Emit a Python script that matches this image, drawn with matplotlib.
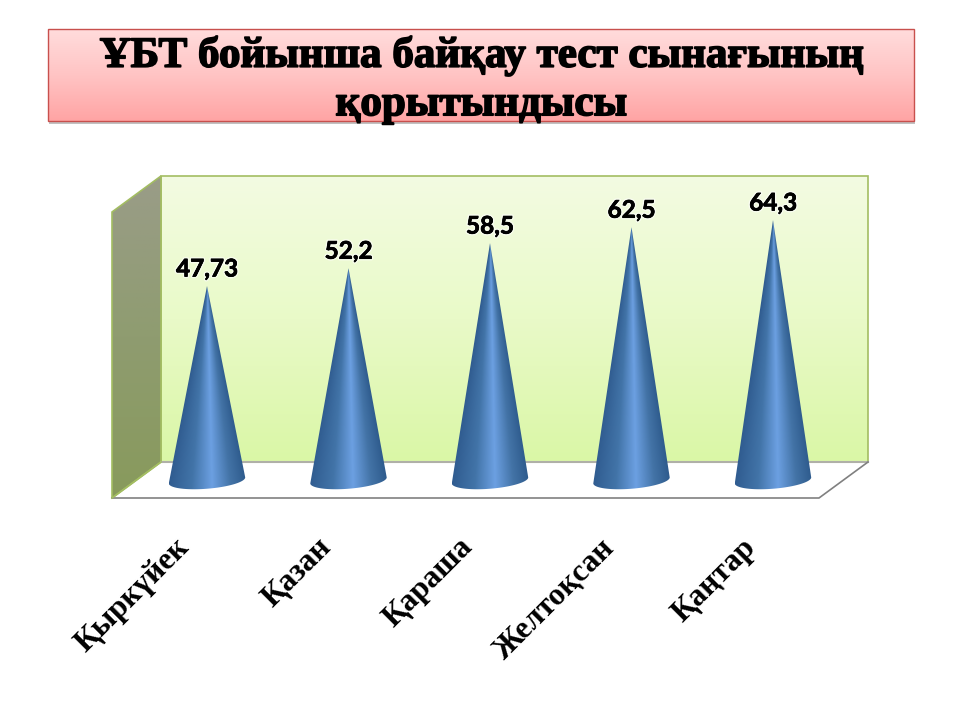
"""Cone chart of test results, with a title banner and a fake 3D chart box"""

import matplotlib

matplotlib.use("Agg")
import matplotlib.pyplot as plt
import matplotlib.patheffects as pe
import numpy as np
from matplotlib.colors import LinearSegmentedColormap
from matplotlib.patches import Polygon, Rectangle
from matplotlib.transforms import ScaledTranslation

title_text = "ҰБТ бойынша байқау тест сынағының\nқорытындысы"
months = ["Қыркүйек", "Қазан", "Қараша", "Желтоқсан", "Қаңтар"]
scores = [47.73, 52.2, 58.5, 62.5, 64.3]
score_labels = ["47,73", "52,2", "58,5", "62,5", "64,3"]

SERIF = ["Liberation Serif", "DejaVu Serif"]

cone_cmap = LinearSegmentedColormap.from_list(
    "cone", [(0, "#305c90"), (0.3, "#4274a8"), (0.56, "#6ca0e2"), (0.8, "#4373a6"), (1, "#2f5c8e")]
)
wall_cmap = LinearSegmentedColormap.from_list("wall", ["#f3fbe2", "#e9fac8", "#daf7a6"])
side_cmap = LinearSegmentedColormap.from_list("side", ["#9a9c88", "#8f9c70", "#889a5c"])
banner_cmap = LinearSegmentedColormap.from_list("banner", ["#ffdcdc", "#ffc4c4", "#ffa4a4"])


def vgrad(ax, cmap, x0, x1, y0, y1, clip=None, zorder=1):
    # Vertical gradient, optionally clipped to a patch
    g = np.linspace(0, 1, 256).reshape(-1, 1)
    im = ax.imshow(g, cmap=cmap, extent=(x0, x1, y1, y0), aspect="auto", zorder=zorder)
    if clip is not None:
        im.set_clip_path(clip)
    return im


fig = plt.figure(figsize=(9.6, 7.2), dpi=100, facecolor="white")

# Background layer in pixels: banner and chart box
bg = fig.add_axes([0, 0, 1, 1])
bg.axis("off")

# banner
bg.add_patch(Rectangle((49, 32), 866, 92, fc="#999999", ec="none", alpha=0.6, zorder=1))
vgrad(bg, banner_cmap, 48, 914, 29, 121, zorder=2)
bg.add_patch(Rectangle((48, 29), 866, 92, fc="none", ec="#c8504d", lw=1, zorder=3))

# chart box
vgrad(bg, wall_cmap, 161, 868, 176, 462, zorder=2)
bg.add_patch(Rectangle((161, 176), 707, 286, fc="none", ec="#a3bd62", lw=1.2, zorder=3))
side = Polygon([(112, 212), (161, 176), (161, 462), (112, 498)], closed=True, fc="none", ec="#a3bd62", lw=1.2, zorder=4)
bg.add_patch(side)
vgrad(bg, side_cmap, 112, 161, 176, 498, clip=side, zorder=3)
floor = Polygon([(112, 498), (161, 462), (868, 462), (819, 498)], closed=True, fc="white", ec="none", zorder=3)
bg.add_patch(floor)
bg.plot([161, 868], [462, 462], color="#b0b0a8", lw=1.5, zorder=4)
bg.plot([112, 819, 868], [498, 498, 462], color="#808080", lw=1.2, zorder=4)
bg.plot([112, 161], [498, 462], color="#a3bd62", lw=1.2, zorder=4)
bg.set_xlim(0, 960)
bg.set_ylim(720, 0)

bg.text(
    481, 80, title_text, family=SERIF, weight="bold", fontsize=31, ha="center", va="center",
    linespacing=1.36, color="black", zorder=5,
    path_effects=[pe.withStroke(linewidth=1.2, foreground="black")],
)

# Chart layer: x is the month index, y is the score
# 141.5 px per month, 3.98 px per score point, score 0 at y=476 px
ax = fig.add_axes([136.25 / 960, (720 - 505) / 720, 707.5 / 960, (505 - 176) / 720])
ax.patch.set_alpha(0)
y_low = -29 / 3.98
y_high = 300 / 3.98

half_w = 0.27
arc_b = 2.1
arc_tilt = 0.75
base_y = -1.1

for i, value in enumerate(scores):
    t = np.linspace(2 * np.pi, np.pi, 60)
    arc_x = i + half_w * np.cos(t)
    arc_y = base_y + arc_b * np.sin(t) + arc_tilt * np.cos(t)
    outline = np.column_stack([np.r_[i, arc_x], np.r_[value, arc_y]])
    cone = Polygon(outline, closed=True, fc="none", ec="none", transform=ax.transData)
    ax.add_patch(cone)

    # shading follows the cone surface, so it narrows to the tip
    xs = np.linspace(i - half_w, i + half_w, 240)
    ys = np.linspace(value, base_y - arc_b - 0.5, 400)
    gx, gy = np.meshgrid(xs, ys)
    width = np.maximum(half_w * (value - gy) / (value - base_y), 1e-4)
    u = np.clip((gx - i) / width * 0.5 + 0.5, 0, 1)
    im = ax.imshow(
        u, cmap=cone_cmap, vmin=0, vmax=1, aspect="auto", zorder=3,
        extent=(i - half_w, i + half_w, ys[-1], ys[0]),
    )
    im.set_clip_path(cone)

    ax.annotate(
        score_labels[i], (i, value), xytext=(0, 4), textcoords="offset points", ha="center", va="bottom",
        family=["Lato", "DejaVu Sans"], weight="bold", fontsize=17.5, color="black", zorder=5,
        path_effects=[
            pe.withStroke(linewidth=2.5, foreground="white", alpha=0.6),
            pe.withStroke(linewidth=0.5, foreground="black"),
        ],
    )

ax.set_xlim(-0.5, 4.5)
ax.set_ylim(y_low, y_high)
ax.set_yticks([])
ax.set_xticks(range(len(months)))
ax.set_xticklabels(months, family=SERIF, weight="bold", fontsize=22.5, rotation=45, ha="right", rotation_mode="anchor")
ax.tick_params(axis="x", length=0, pad=20)
# pull the month names left of their cones
shift = ScaledTranslation(-0.32, 0, fig.dpi_scale_trans)
for lab in ax.get_xticklabels():
    lab.set_transform(lab.get_transform() + shift)
for spine in ax.spines.values():
    spine.set_visible(False)

fig.savefig("out.png", dpi=100)
plt.close(fig)
